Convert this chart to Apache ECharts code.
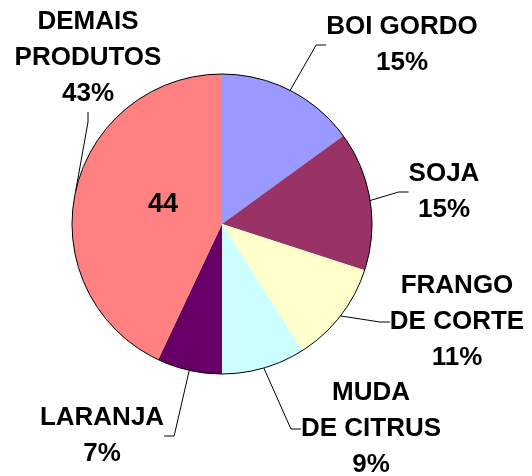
<!DOCTYPE html>
<html>
<head>
<meta charset="utf-8">
<script src="https://cdn.jsdelivr.net/npm/echarts@6/dist/echarts.min.js"></script>
<style>
  html, body { margin: 0; padding: 0; background: #fff; }
  #chart { width: 532px; height: 476px; }
</style>
</head>
<body>
<div id="chart"></div>
<script>
// slices, clockwise from 12 o'clock
const categories = ["BOI GORDO", "SOJA", "FRANGO\nDE CORTE", "MUDA\nDE CITRUS", "LARANJA", "DEMAIS\nPRODUTOS"];
const shares = [15, 15, 11, 9, 7, 43];
const colors = ["#9999FF", "#993366", "#FFFFCC", "#CCFFFF", "#660066", "#FF8080"];
const innerNote = "44";

// where each outside label sits (centre of the text block)
const labelPos = [
  [402, 45],
  [444, 192],
  [457, 322],
  [371, 429],
  [102, 436],
  [88, 58]
];

const font = "'Liberation Sans', Arial, sans-serif";

let mychart = echarts.init(document.getElementById("chart"));
const option = {
  backgroundColor: "#fff",
  animation: false,
  color: colors,
  graphic: [
    {
      type: "text",
      left: 148,
      top: 191,
      z: 100,
      style: {
        text: innerNote,
        font: "bold 27px " + font,
        fill: "#000"
      }
    }
  ],
  series: [
    {
      type: "pie",
      center: [222, 224],
      radius: 150,
      startAngle: 90,
      clockwise: true,
      silent: true,
      itemStyle: { borderWidth: 0 },
      label: {
        show: true,
        position: "outside",
        color: "#000",
        fontFamily: font,
        fontWeight: "bold",
        fontSize: 26,
        lineHeight: 36,
        align: "center",
        overflow: "none",
        formatter: (p) => p.name + "\n" + Math.round(p.percent) + "%"
      },
      labelLine: {
        show: true,
        length: 15,
        length2: 10,
        lineStyle: { color: "#000", width: 1 }
      },
      labelLayout: (params) => {
        const pos = labelPos[params.dataIndex];
        return {
          x: pos[0],
          y: pos[1],
          align: "center",
          verticalAlign: "middle"
        };
      },
      data: categories.map((name, i) => ({ name: name, value: shares[i] }))
    },
    {
      // outer black rim
      type: "pie",
      center: [222, 224],
      radius: 150,
      silent: true,
      label: { show: false },
      labelLine: { show: false },
      itemStyle: { color: "rgba(0,0,0,0)", borderColor: "#000", borderWidth: 1 },
      data: [{ value: 1, name: "" }]
    }
  ]
};
mychart.setOption(option);
</script>
</body>
</html>
